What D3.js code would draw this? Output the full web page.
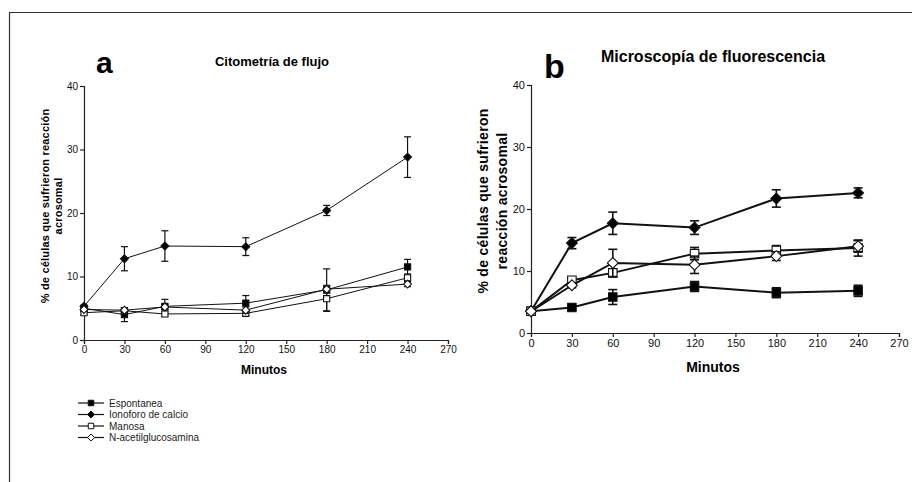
<!DOCTYPE html>
<html>
<head>
<meta charset="utf-8">
<script src="https://cdn.jsdelivr.net/npm/d3@7"></script>
<style>
  body { margin: 0; background: #fff; }
  svg { display: block; font-family: "Liberation Sans", Arial, sans-serif; }
</style>
</head>
<body>
<div id="chart"></div>
<script>
const minutes = [0, 30, 60, 120, 180, 240]
const xTicks = [0, 30, 60, 90, 120, 150, 180, 210, 240, 270]
const yTicks = [0, 10, 20, 30, 40]
const seriesNames = ['Espontanea', 'Ionoforo de calcio', 'Manosa', 'N-acetilglucosamina']

// panel a: citometria de flujo
const flujoEspontanea = [5.0, 4.0, 5.3, 5.8, 7.9, 11.5]
const flujoEspontaneaErr = [0.4, 1.1, 1.1, 1.2, 3.3, 1.2]
const flujoIonoforo = [5.3, 12.8, 14.8, 14.7, 20.4, 28.8]
const flujoIonoforoErr = [0, 1.9, 2.4, 1.4, 0.8, 3.2]
const flujoManosa = [4.3, 4.6, 4.1, 4.2, 6.5, 9.8]
const flujoManosaErr = [0.3, 0.5, 0.4, 0.4, 2.0, 0.6]
const flujoNacetil = [4.8, 4.7, 5.2, 4.7, 8.0, 8.8]
const flujoNacetilErr = [0.3, 0.4, 0.4, 0.5, 0.6, 0.4]

// panel b: microscopia de fluorescencia
const microEspontanea = [3.5, 4.1, 5.8, 7.5, 6.5, 6.8]
const microEspontaneaErr = [0.6, 0.3, 1.2, 0.8, 0.8, 0.9]
const microIonoforo = [3.5, 14.5, 17.7, 17.0, 21.7, 22.6]
const microIonoforoErr = [0, 0.9, 1.8, 1.1, 1.4, 0.8]
const microManosa = [3.5, 8.5, 9.7, 12.8, 13.3, 13.7]
const microManosaErr = [0, 0.5, 0.6, 1.0, 0.8, 1.3]
const microNacetil = [3.5, 7.7, 11.3, 11.0, 12.4, 14.0]
const microNacetilErr = [0, 0.4, 2.2, 1.4, 0.7, 0.9]

const W = 912, H = 482

const svg = d3.select('#chart').append('svg')
  .attr('width', W)
  .attr('height', H)

// frame around the figure
svg.append('path')
  .attr('d', `M9.5,${H} V12.5 H${W}`)
  .attr('fill', 'none')
  .attr('stroke', '#333')
  .attr('stroke-width', 1.2)

// square turned 45 degrees, about as wide as the square marker
const rhombus = {
  draw(ctx, size) {
    const r = Math.sqrt(size) * 0.64
    ctx.moveTo(0, -r)
    ctx.lineTo(r, 0)
    ctx.lineTo(0, r)
    ctx.lineTo(-r, 0)
    ctx.closePath()
  }
}

const symbols = [
  { type: d3.symbolSquare, fill: '#000' },
  { type: rhombus, fill: '#000' },
  { type: d3.symbolSquare, fill: '#fff' },
  { type: rhombus, fill: '#fff' }
]

function drawPanel(p) {
  const x = d3.scaleLinear().domain([0, 270]).range([p.left, p.right])
  const y = d3.scaleLinear().domain([0, 40]).range([p.bottom, p.top])
  const g = svg.append('g')

  const xAxis = d3.axisBottom(x).tickValues(xTicks).tickSize(4).tickPadding(2)
  const yAxis = d3.axisLeft(y).tickValues(yTicks).tickSize(4).tickPadding(2)

  g.append('g')
    .attr('transform', 'translate(0,' + p.bottom + ')')
    .call(xAxis)
    .call(a => a.selectAll('text').attr('font-size', p.tickFont).attr('fill', '#111'))
  g.append('g')
    .attr('transform', 'translate(' + p.left + ',0)')
    .call(yAxis)
    .call(a => a.selectAll('text').attr('font-size', p.tickFont).attr('fill', '#111'))
  g.selectAll('.domain, .tick line').attr('stroke', '#222').attr('stroke-width', p.axisWidth)

  const line = d3.line().x((d, i) => x(minutes[i])).y(d => y(d))

  p.series.forEach((s, k) => {
    g.append('path')
      .datum(s.values)
      .attr('d', line)
      .attr('fill', 'none')
      .attr('stroke', '#111')
      .attr('stroke-width', p.lineWidth)

    const eb = g.append('g').attr('stroke', '#111').attr('stroke-width', p.errWidth)
    s.values.forEach((v, i) => {
      const e = s.err[i]
      if (!e) return
      const cx = x(minutes[i])
      eb.append('line').attr('x1', cx).attr('x2', cx).attr('y1', y(v - e)).attr('y2', y(v + e))
      eb.append('line').attr('x1', cx - p.cap).attr('x2', cx + p.cap).attr('y1', y(v + e)).attr('y2', y(v + e))
      eb.append('line').attr('x1', cx - p.cap).attr('x2', cx + p.cap).attr('y1', y(v - e)).attr('y2', y(v - e))
    })

    const sym = symbols[k]
    g.selectAll(null)
      .data(s.values)
      .join('path')
      .attr('transform', (d, i) => `translate(${x(minutes[i])},${y(d)})`)
      .attr('d', d3.symbol().type(sym.type).size(p.markSize))
      .attr('fill', sym.fill)
      .attr('stroke', '#111')
      .attr('stroke-width', 1.1)
  })

  // titles and labels
  svg.append('text')
    .attr('x', p.letterX).attr('y', p.letterY)
    .attr('font-size', p.letterFont).attr('font-weight', 700)
    .text(p.letter)
  svg.append('text')
    .attr('x', p.titleX).attr('y', p.titleY)
    .attr('text-anchor', 'middle')
    .attr('font-size', p.titleFont).attr('font-weight', 700)
    .text(p.title)
  svg.append('text')
    .attr('x', (p.left + p.right) / 2 - 2).attr('y', p.xLabelY)
    .attr('text-anchor', 'middle')
    .attr('font-size', p.xLabelFont).attr('font-weight', 700)
    .text('Minutos')

  const yl = svg.append('text')
    .attr('transform', `translate(${p.yLabelX},${p.yLabelY}) rotate(-90)`)
    .attr('text-anchor', 'middle')
    .attr('font-size', p.yLabelFont).attr('font-weight', 700)
    .attr('letter-spacing', p.yLabelSpacing)
  p.yLabel.forEach((t, i) => {
    yl.append('tspan').attr('x', 0).attr('dy', i === 0 ? 0 : p.yLabelGap).text(t)
  })
}

drawPanel({
  left: 84, right: 448, top: 86, bottom: 340,
  tickFont: 10, titleFont: 13, letterFont: 30, xLabelFont: 12,
  yLabelFont: 11, yLabelSpacing: 0.2, yLabelGap: 13,
  lineWidth: 1, errWidth: 1.2, axisWidth: 1.2, cap: 3.5, markSize: 38,
  letter: 'a', letterX: 96, letterY: 73,
  title: 'Citometría de flujo', titleX: 272, titleY: 66,
  xLabelY: 374,
  yLabel: ['% de células que sufrieron reacción', 'acrosomal'], yLabelX: 49, yLabelY: 206,
  series: [
    { values: flujoEspontanea, err: flujoEspontaneaErr },
    { values: flujoIonoforo, err: flujoIonoforoErr },
    { values: flujoManosa, err: flujoManosaErr },
    { values: flujoNacetil, err: flujoNacetilErr }
  ]
})

drawPanel({
  left: 531, right: 899, top: 85, bottom: 333,
  tickFont: 11, titleFont: 16, letterFont: 34, xLabelFont: 14,
  yLabelFont: 14, yLabelSpacing: 0.3, yLabelGap: 19,
  lineWidth: 2, errWidth: 1.6, axisWidth: 1.2, cap: 4.5, markSize: 72,
  letter: 'b', letterX: 544, letterY: 78,
  title: 'Microscopía de fluorescencia', titleX: 713, titleY: 62,
  xLabelY: 372,
  yLabel: ['% de células que sufrieron', 'reacción acrosomal'], yLabelX: 488, yLabelY: 201,
  series: [
    { values: microEspontanea, err: microEspontaneaErr },
    { values: microIonoforo, err: microIonoforoErr },
    { values: microManosa, err: microManosaErr },
    { values: microNacetil, err: microNacetilErr }
  ]
})

// legend
const legend = svg.append('g').attr('transform', 'translate(78,403)')
seriesNames.forEach((name, k) => {
  const row = legend.append('g').attr('transform', `translate(0,${k * 11.5})`)
  row.append('line').attr('x1', 0).attr('x2', 26).attr('stroke', '#111').attr('stroke-width', 1.2)
  row.append('path')
    .attr('transform', 'translate(13,0)')
    .attr('d', d3.symbol().type(symbols[k].type).size(30))
    .attr('fill', symbols[k].fill)
    .attr('stroke', '#111')
    .attr('stroke-width', 1)
  row.append('text')
    .attr('x', 31).attr('y', 0).attr('dy', '0.35em')
    .attr('font-size', 10)
    .attr('fill', '#222')
    .text(name)
})
</script>
</body>
</html>
